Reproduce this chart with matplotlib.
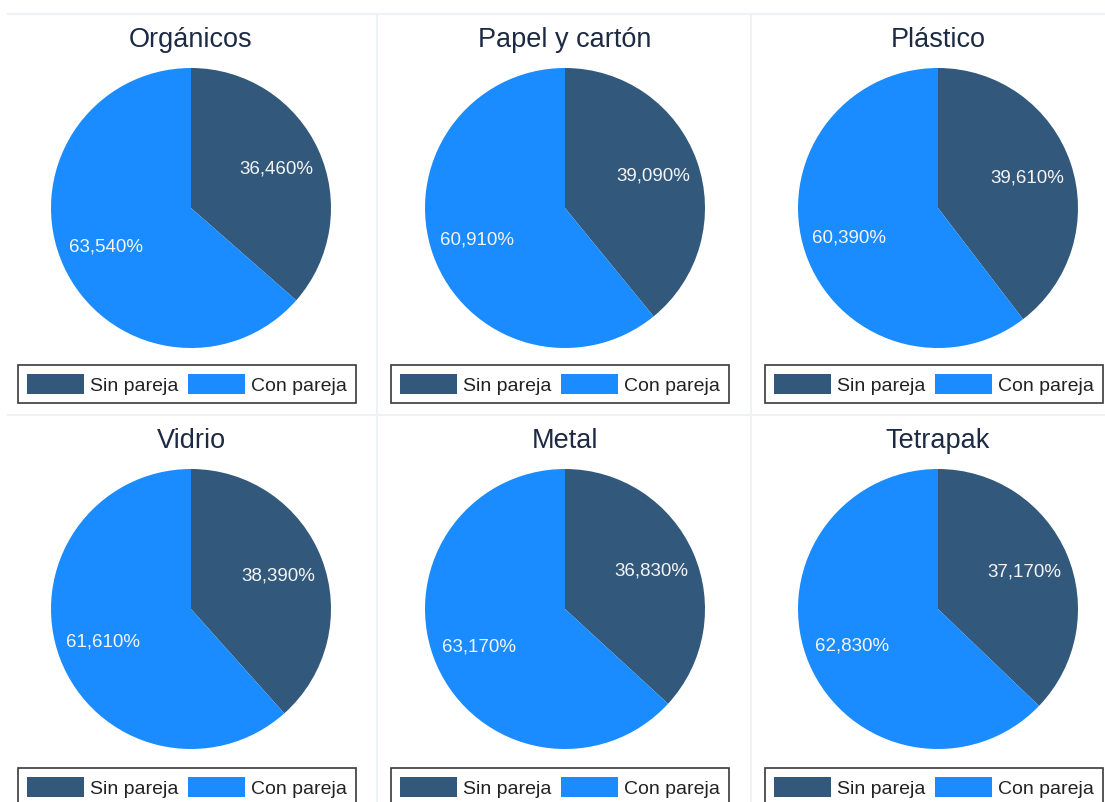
import matplotlib
matplotlib.use("Agg")
import matplotlib.pyplot as plt
from matplotlib.lines import Line2D

# ---------------------------------------------------------
# DATA
# ---------------------------------------------------------
categories = ["Orgánicos", "Papel y cartón", "Plástico", "Vidrio", "Metal", "Tetrapak"]
sin_pareja = [36.46, 39.09, 39.61, 38.39, 36.83, 37.17]
con_pareja = [63.54, 60.91, 60.39, 61.61, 63.17, 62.83]
legend_labels = ["Sin pareja", "Con pareja"]

# ---------------------------------------------------------
# STYLE
# ---------------------------------------------------------
plt.rcParams['font.family'] = ['Liberation Sans', 'DejaVu Sans']
colors = ["#32597c", "#1a8cff"]
title_color = "#1c2a44"
grid_color = "#edf2f4"

W, H = 1105, 802
fig = plt.figure(figsize=(W / 100, H / 100), dpi=100)


def fx(px):
    return px / W


def fy(py):
    return 1 - py / H


# panel dividers
for y in (14, 415):
    fig.add_artist(Line2D([fx(8), 1], [fy(y), fy(y)], color=grid_color, lw=1.5))
for x in (377, 751):
    fig.add_artist(Line2D([fx(x), fx(x)], [fy(14), 0], color=grid_color, lw=1.5))

col_cx = [191, 565, 938]
row_cy = [208, 609]
row_title = [47, 448]
row_leg = [365, 768]
col_leg = [18, 391, 765]
R = 140


def fmt(p):
    return f"{p:.3f}%".replace(".", ",")


for i, cat in enumerate(categories):
    r, c = divmod(i, 3)
    cx, cy = col_cx[c], row_cy[r]
    ax = fig.add_axes([fx(cx - R), fy(cy + R), (2 * R) / W, (2 * R) / H])
    wedges, texts, autotexts = ax.pie(
        [sin_pareja[i], con_pareja[i]],
        colors=colors,
        startangle=90,
        counterclock=False,
        autopct=fmt,
        pctdistance=0.67,
        textprops=dict(color="#f4f4f4", fontsize=13.5),
    )
    ax.set_xlim(-1, 1)
    ax.set_ylim(-1, 1)
    ax.set_aspect("equal")

    fig.text(fx(cx), fy(row_title[r]), cat, ha="center", va="baseline",
             fontsize=19.5, color=title_color)

    # legend box under each pie
    fig.legend(wedges, legend_labels, ncol=2,
               loc="upper left",
               bbox_to_anchor=(fx(col_leg[c]), fy(row_leg[r])),
               borderaxespad=0, fancybox=False, frameon=True,
               edgecolor="#3a3a3a", framealpha=1,
               fontsize=14, handlelength=2.95, handleheight=1.26,
               handletextpad=0.3, columnspacing=0.5, borderpad=0.45,
               labelcolor="#222222")

for lg in fig.legends:
    lg.get_frame().set_linewidth(1.2)

fig.savefig("out.png", dpi=100)
